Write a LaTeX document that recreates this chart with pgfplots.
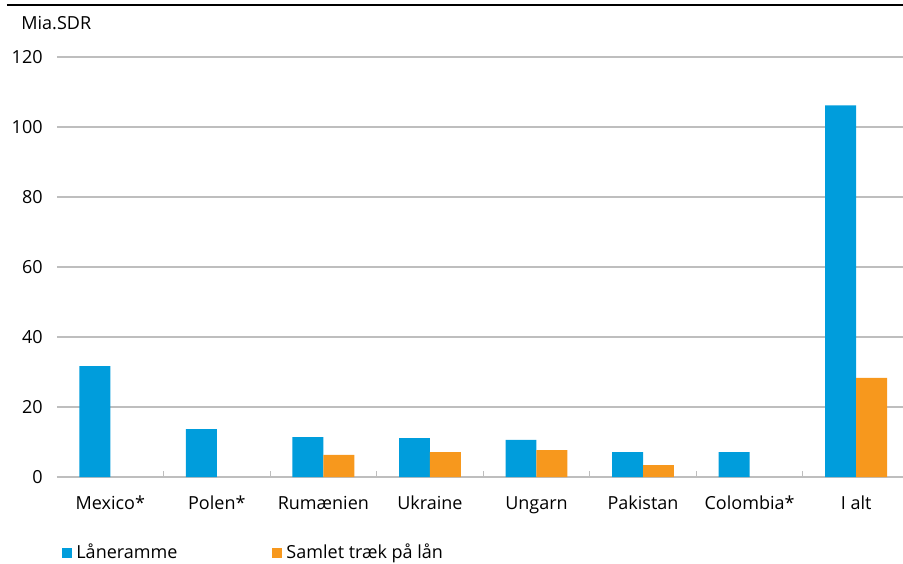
\documentclass[border=0pt]{standalone}
\usepackage{pgfplots}
\pgfplotsset{compat=1.18}
\usepackage{fontspec}
\setmainfont{Open Sans}
\definecolor{cblue}{RGB}{0,157,220}
\definecolor{corange}{RGB}{247,152,29}
\definecolor{cgrid}{RGB}{190,190,190}
\begin{document}
\fontsize{9}{11}\selectfont
\begin{tikzpicture}
\begin{axis}[
 scale only axis, width=423pt, height=210pt,
 xmin=-0.5, xmax=7.44, ymin=0, ymax=120, enlargelimits=false,
 clip=false,
 axis x line*=bottom, axis y line*=left,
 y axis line style={draw=none},
 x axis line style={draw=cgrid, line width=0.6pt, -},
 ymajorgrids, grid style={cgrid, line width=0.6pt},
 ytick={0,20,...,120},
 xtick={0,...,7},
 xticklabels={Mexico*,Polen*,Rumænien,Ukraine,Ungarn,Pakistan,Colombia*,I alt},
 minor xtick={0.5,1.5,...,6.5},
 major tick length=0pt, minor tick length=3pt, tick align=inside,
 minor tick style={cgrid, line width=0.6pt},
 /pgf/number format/assume math mode=true,
 ticklabel style={font=\fontsize{9}{11}\selectfont},
 yticklabel style={anchor=east, xshift=-4pt},
 xticklabel style={anchor=base, yshift=-16pt},
 legend style={at={(0,0)}, anchor=west, xshift=2.5pt, yshift=-38pt, draw=none, fill=none, inner sep=0pt,
   /tikz/every even column/.append style={column sep=45.5pt}, font=\fontsize{9}{11}\selectfont},
 legend columns=2, legend cell align=left,
]
\addplot[ybar, bar width=0.29, bar shift=-0.145, fill=cblue, draw=none,
  legend image code/.code={\fill[cblue] (0pt,-2.5pt) rectangle (5pt,2.5pt);}]
 coordinates {(0,31.7) (1,13.7) (2,11.4) (3,11.1) (4,10.6) (5,7.1) (6,7.1) (7,106.2)};
\addlegendentry{Låneramme}
\addplot[ybar, bar width=0.29, bar shift=0.145, fill=corange, draw=none,
  legend image code/.code={\fill[corange] (0pt,-2.5pt) rectangle (5pt,2.5pt);}]
 coordinates {(2,6.3) (3,7.1) (4,7.7) (5,3.4) (7,28.3)};
\addlegendentry{Samlet træk på lån}
\coordinate (bl) at (rel axis cs:0,0);
\coordinate (tr) at (rel axis cs:1,1);
\draw[line width=1pt] ([xshift=-25pt,yshift=26pt]rel axis cs:0,1) -- ([yshift=26pt]rel axis cs:1,1);
\node[anchor=west, inner sep=0pt, font=\fontsize{9}{11}\selectfont] at ([xshift=-18pt,yshift=17pt]rel axis cs:0,1) {Mia.SDR};
\end{axis}
\pgfresetboundingbox
\path ([xshift=-28.5pt,yshift=-43pt]bl) rectangle ([yshift=28.5pt]tr);
\end{tikzpicture}
\end{document}
